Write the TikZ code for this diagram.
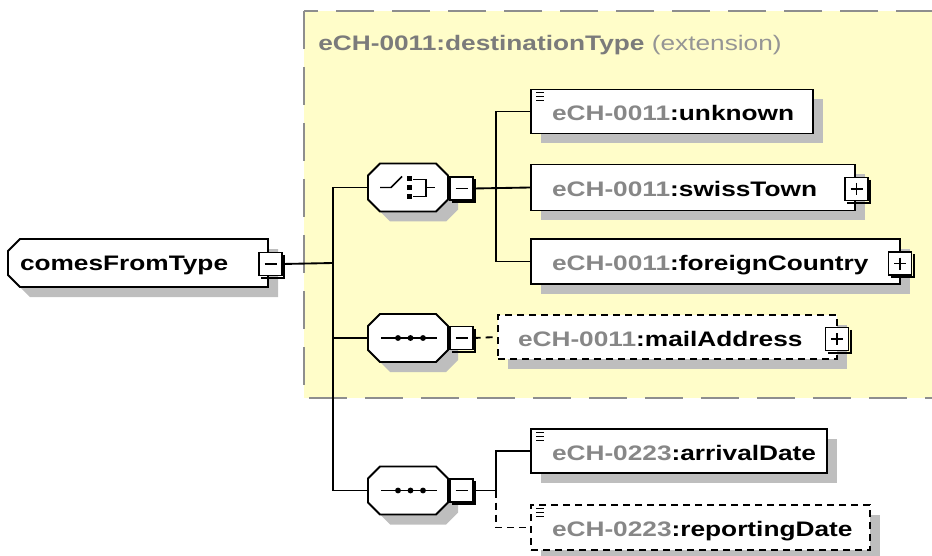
\documentclass[tikz,border=0pt]{standalone}
\usepackage{fontspec}
\newfontfamily\xsdfont{Liberation Sans}[FakeStretch=1.25]
\usetikzlibrary{calc,shadows}

\definecolor{extfill}{HTML}{FFFDC9}
\definecolor{extline}{HTML}{8E8E8E}
\definecolor{nsgray}{HTML}{878787}
\definecolor{titlegray}{HTML}{7B7B7B}
\definecolor{shadowgray}{HTML}{BEBEBE}

% qualified name: grey namespace prefix, black local part
\newcommand\qn[2]{\mbox{\textcolor{nsgray}{#1}:#2}}

\tikzset{
  txt/.style={font=\xsdfont\bfseries\fontsize{15.75pt}{18pt}\selectfont},
  conn/.style={line width=1.4pt, draw=black},
  optconn/.style={conn, dash pattern=on 5.25pt off 3.75pt},
  elembox/.style={draw=black, line width=1.4pt, fill=white, txt, align=left,
    inner ysep=0pt, inner xsep=15.75pt, text height=13.5pt, text depth=0pt,
    drop shadow={shadow xshift=7.5pt, shadow yshift=-7.5pt, fill=shadowgray, opacity=1}},
  optbox/.style={elembox, dash pattern=on 5.25pt off 3.75pt},
  toggle/.style={draw=black, line width=0.9pt, fill=white, minimum size=17.25pt, inner sep=0pt},
  compositor/.style={minimum width=60pt, minimum height=36pt, inner sep=0pt},
}

% 3D edge of an expand/collapse box, with its sign
\newcommand\tgedge[1]{\draw[line width=1.6pt] ($(#1.north east)+(1.5,3)$) |- ($(#1.south west)+(3,1.5)$);}
\newcommand\tgminus[1]{\tgedge{#1}\draw[line width=1pt] ($(#1.center)+(-6,0)$) -- ($(#1.center)+(6,0)$);}
\newcommand\tgplus[1]{\tgminus{#1}\draw[line width=1pt] ($(#1.center)+(0,-6)$) -- ($(#1.center)+(0,6)$);}
% documentation marker in the upper left corner of an element box
\newcommand\docicon[1]{%
  \foreach \dy in {4,8,12}{\draw[line width=0.8pt] ($(#1.north west)+(6,\dy)$) -- +(8,0);}}

% octagonal compositor outline with shadow (centre x, centre y, half width, half height)
\newcommand\octa[4]{%
  \fill[shadowgray, shift={(#1+10,#2+10)}] (-#3+12,-#4) -- (#3-12,-#4) -- (#3,-#4+12) -- (#3,#4-12)
    -- (#3-12,#4) -- (-#3+12,#4) -- (-#3,#4-12) -- (-#3,-#4+12) -- cycle;
  \filldraw[fill=white, draw=black, line width=1.4pt, shift={(#1,#2)}] (-#3+12,-#4) -- (#3-12,-#4)
    -- (#3,-#4+12) -- (#3,#4-12) -- (#3-12,#4) -- (-#3+12,#4) -- (-#3,#4-12) -- (-#3,-#4+12) -- cycle;}
% complex type outline: left corners cut
\newcommand\ltab[4]{%
  \fill[shadowgray, shift={(#1+10,#2+10)}] (-#3+12,-#4) -- (#3,-#4) -- (#3,#4) -- (-#3+12,#4)
    -- (-#3,#4-12) -- (-#3,-#4+12) -- cycle;
  \filldraw[fill=white, draw=black, line width=1.4pt, shift={(#1,#2)}] (-#3+12,-#4) -- (#3,-#4)
    -- (#3,#4) -- (-#3+12,#4) -- (-#3,#4-12) -- (-#3,-#4+12) -- cycle;}

\begin{document}
\begin{tikzpicture}[x=0.75pt, y=-0.75pt]
\path[use as bounding box] (0,0) rectangle (932,556);
\clip (0,0) rectangle (932,556);

% extension area of the base type
\draw[extline, fill=extfill, line width=1.5pt, dash pattern=on 28.5pt off 13.5pt]
  (304,11) -- (304,398) -- (960,398) -- (960,11) -- cycle;
\node[anchor=west, inner sep=0pt, font=\xsdfont\fontsize{15.75pt}{18pt}\selectfont] (ext) at (318,45)
  {\textcolor{titlegray}{\bfseries eCH-0011:destinationType} \textcolor{titlegray!80}{(extension)}};

% root complex type
\ltab{138}{263}{130}{24}
\node[txt, align=left, text width=177pt, inner xsep=9pt, inner ysep=0pt, minimum height=36pt,
  text height=11.3pt, text depth=0pt] (ct) at (138,263) {comesFromType};
\node[toggle] (ctm) at (270.5,264) {};
\tgminus{ctm}

% compositors
\octa{408}{187.5}{40}{24}
\node[compositor] (choice) at (408,187.5) {};
\octa{408}{338}{40}{24}
\node[compositor] (seq1) at (408,338) {};
\octa{408}{490.5}{40}{24}
\node[compositor] (seq2) at (408,490.5) {};

% choice symbol
\draw[line width=1.1pt] ($(choice.center)+(-28,0)$) -- ($(choice.center)+(-17,0)$) -- ($(choice.center)+(-6,-11)$);
\foreach \dy in {-9,0.5,9.5}{\fill ($(choice.center)+(-1,\dy-2.5)$) rectangle +(5,5);}
\draw[line width=1.1pt] ($(choice.center)+(5,-8)$) -- ($(choice.center)+(18,-8)$) -- ($(choice.center)+(18,9)$) -- ($(choice.center)+(5,9)$);
\draw[line width=1.1pt] ($(choice.center)+(18,0)$) -- ($(choice.center)+(27,0)$);

% sequence symbols
\foreach \s in {seq1,seq2}{
  \draw[line width=1.1pt] ($(\s.center)+(-27,0)$) -- ($(\s.center)+(29,0)$);
  \foreach \dx in {-10,2.5,15}{\fill ($(\s.center)+(\dx,0)$) circle[radius=2.2pt];}
}

\node[toggle] (chm) at (461.5,188.5) {};
\tgminus{chm}
\node[toggle] (s1m) at (461.5,338) {};
\tgminus{s1m}
\node[toggle] (s2m) at (461.5,490.5) {};
\tgminus{s2m}

% elements
\node[elembox, text width=180pt, minimum height=33pt] (unknown) at (672,111.5) {\qn{eCH-0011}{unknown}};
\docicon{unknown}
\node[elembox, text width=211.5pt, minimum height=34.5pt] (swiss) at (693,187.5) {\qn{eCH-0011}{swissTown}};
\node[toggle] (swissp) at (856.5,189) {};
\tgplus{swissp}
\node[elembox, text width=245.25pt, minimum height=33.75pt] (foreign) at (715.5,261.5) {\qn{eCH-0011}{foreignCountry}};
\node[toggle] (foreignp) at (900,263.5) {};
\tgplus{foreignp}
\node[optbox, text width=224.25pt, inner xsep=15pt, minimum height=33pt] (mail) at (667.5,337) {\qn{eCH-0011}{mailAddress}};
\node[toggle] (mailp) at (837,339) {};
\tgplus{mailp}
\node[elembox, text width=190.5pt, minimum height=33pt] (arrival) at (679,451) {\qn{eCH-0223}{arrivalDate}};
\docicon{arrival}
\node[optbox, text width=222.75pt, minimum height=33.75pt] (reporting) at (700.5,527.5) {\qn{eCH-0223}{reportingDate}};
\docicon{reporting}

% connectors
\coordinate (tr) at (333,263);
\coordinate (cb) at (496,188.5);
\coordinate (sb) at (496,490.5);
\draw[conn] (ctm.east) -- (tr);
\draw[conn] (choice.west) -| (tr) |- (seq2.west);
\draw[conn] (seq1.west) -- (seq1.west -| tr);
\draw[conn] (chm.east) -- (swiss.west);
\draw[conn] (unknown.west) -| (cb) |- (foreign.west);
\draw[optconn] (s1m.east) -- (mail.west);
\draw[conn] (s2m.east) -- (sb) |- (arrival.west);
\draw[optconn] (sb) |- (reporting.west);
\end{tikzpicture}
\end{document}
